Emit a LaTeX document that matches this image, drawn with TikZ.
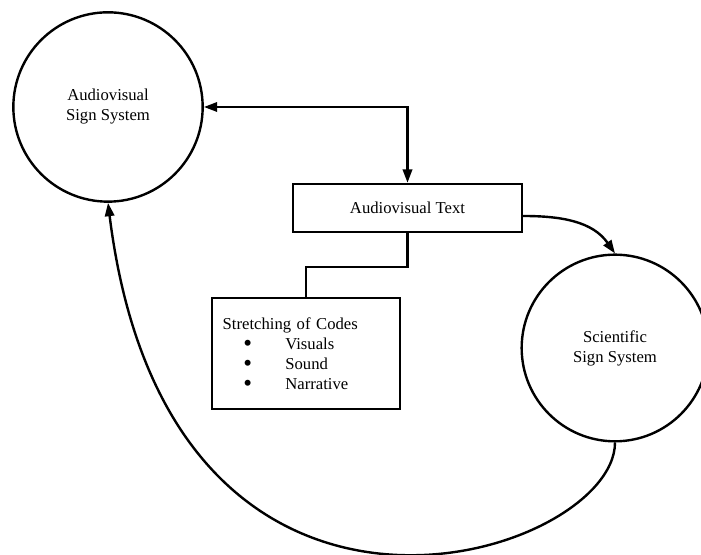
\documentclass[tikz,border=0pt]{standalone}
\usepackage{fontspec}
\setmainfont{Liberation Serif}
\usetikzlibrary{arrows.meta}
\newcommand\codeitem[1]{\makebox[37.5pt]{\raisebox{-1.8pt}[0pt][0pt]{\scalebox{1.5}{\textbullet}}}\hspace{9.5pt}#1}

\begin{document}
\begin{tikzpicture}[x=0.75pt,y=0.75pt,
    every node/.style={font=\fontsize{12.5}{15}\selectfont},
    signsys/.style={draw, circle, line width=1.8pt, align=center, minimum size=142pt},
    textbox/.style={draw, rectangle, line width=1.8pt},
    link/.style={line width=1.8pt},
    tip/.style={-{Triangle[length=10pt,width=7pt]}}]
    \useasboundingbox (0,0) rectangle (701,555);
    \node[signsys] (avss) at (108,448) {Audiovisual\\Sign System};
    \node[signsys, minimum size=140pt] (ssys) at (615,207) {Scientific\\Sign System};
    \node[textbox, minimum width=171.75pt, minimum height=36pt] (avt) at (407.5,347) {Audiovisual Text};
    \node[textbox, minimum width=141pt, minimum height=83pt, text width=125pt, inner xsep=8pt, align=left] (codes) at (306,201.5)
         {Stretching of Codes\\ \codeitem{Visuals}\\ \codeitem{Sound}\\ \codeitem{Narrative}};
    % connectors
    \draw[link, {Triangle[length=10pt,width=7pt]}-{Triangle[length=10pt,width=7pt]}] (avss.east) -| (avt.north);
    \draw[link] (avt.south) -- ++(0,-34) -| (codes.north);
    \draw[link, tip] ([yshift=-6pt]avt.east) to[out=0,in=125] (ssys.north);
    \draw[link, tip] (ssys.south) .. controls +(0,-115) and +(62,-498) .. (avss.south);
  \end{tikzpicture}
\end{document}
